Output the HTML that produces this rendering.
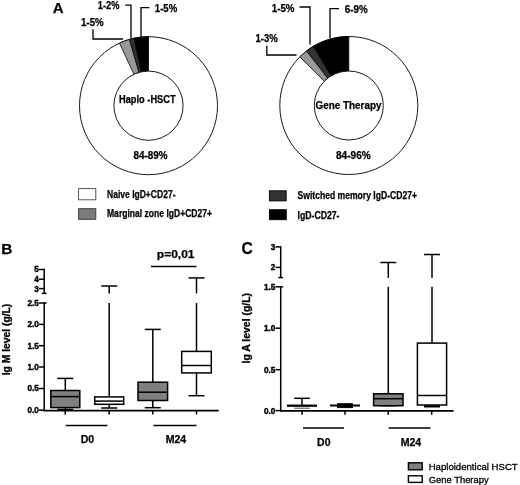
<!DOCTYPE html>
<html><head><meta charset="utf-8"><title>Figure</title>
<style>
html,body{margin:0;padding:0;background:#fff;}
svg{display:block;}
text{font-family:"Liberation Sans",sans-serif;fill:#000;}
</style></head><body>
<svg width="520" height="485" viewBox="0 0 520 485">
<rect width="520" height="485" fill="#fff"/>
<text x="52.8" y="13" font-size="15" font-weight="bold" text-anchor="start" stroke="#000" stroke-width="0.25">A</text>
<circle cx="148.5" cy="105.7" r="69" fill="#fff" stroke="#1a1a1a" stroke-width="1"/>
<path d="M148.50 36.70 A69 69 0 0 0 133.92 38.26 L141.19 71.88 A34.6 34.6 0 0 1 148.50 71.10 Z" fill="#000" stroke="#000" stroke-width="0.8"/>
<path d="M133.92 38.26 A69 69 0 0 0 129.37 39.41 L138.90 72.46 A34.6 34.6 0 0 1 141.19 71.88 Z" fill="#333" stroke="#000" stroke-width="0.8"/>
<path d="M129.37 39.41 A69 69 0 0 0 119.45 43.11 L133.93 74.32 A34.6 34.6 0 0 1 138.90 72.46 Z" fill="#999" stroke="#000" stroke-width="0.8"/>
<circle cx="148.5" cy="105.7" r="34.6" fill="#fff" stroke="#1a1a1a" stroke-width="1"/>
<circle cx="348.8" cy="105.5" r="69" fill="#fff" stroke="#1a1a1a" stroke-width="1"/>
<path d="M348.80 36.50 A69 69 0 0 0 313.26 46.36 L331.03 75.93 A34.5 34.5 0 0 1 348.80 71.00 Z" fill="#000" stroke="#000" stroke-width="0.8"/>
<path d="M313.26 46.36 A69 69 0 0 0 306.51 50.98 L327.65 78.24 A34.5 34.5 0 0 1 331.03 75.93 Z" fill="#333" stroke="#000" stroke-width="0.8"/>
<path d="M306.51 50.98 A69 69 0 0 0 299.84 56.88 L324.32 81.19 A34.5 34.5 0 0 1 327.65 78.24 Z" fill="#999" stroke="#000" stroke-width="0.8"/>
<circle cx="348.8" cy="105.5" r="34.5" fill="#fff" stroke="#1a1a1a" stroke-width="1"/>
<text x="81" y="26.2" font-size="10.1" font-weight="bold" text-anchor="start" textLength="22.7" lengthAdjust="spacingAndGlyphs" stroke="#000" stroke-width="0.25">1-5%</text>
<polyline points="93,29.2 93,39 123,39" fill="none" stroke="#000" stroke-width="1.3"/>
<text x="97.8" y="8.6" font-size="10.1" font-weight="bold" text-anchor="start" textLength="21.6" lengthAdjust="spacingAndGlyphs" stroke="#000" stroke-width="0.25">1-2%</text>
<polyline points="125.2,5.2 131,5.2 131,38.5" fill="none" stroke="#000" stroke-width="1.3"/>
<text x="154.8" y="12.0" font-size="10.1" font-weight="bold" text-anchor="start" textLength="22.4" lengthAdjust="spacingAndGlyphs" stroke="#000" stroke-width="0.25">1-5%</text>
<polyline points="149.4,7.7 141,7.7 141,37" fill="none" stroke="#000" stroke-width="1.3"/>
<text x="119" y="103.2" font-size="10.1" font-weight="bold" text-anchor="start" textLength="56.6" lengthAdjust="spacingAndGlyphs" stroke="#000" stroke-width="0.25">Haplo -HSCT</text>
<text x="133.5" y="159.4" font-size="10.1" font-weight="bold" text-anchor="start" textLength="34" lengthAdjust="spacingAndGlyphs" stroke="#000" stroke-width="0.25">84-89%</text>
<text x="271.8" y="11.6" font-size="10.1" font-weight="bold" text-anchor="start" textLength="22.7" lengthAdjust="spacingAndGlyphs" stroke="#000" stroke-width="0.25">1-5%</text>
<polyline points="299.5,7 310,7 310,44.5" fill="none" stroke="#000" stroke-width="1.3"/>
<text x="344.8" y="13.2" font-size="10.1" font-weight="bold" text-anchor="start" textLength="22.8" lengthAdjust="spacingAndGlyphs" stroke="#000" stroke-width="0.25">6-9%</text>
<polyline points="339,8.7 330,8.7 330,38" fill="none" stroke="#000" stroke-width="1.3"/>
<text x="255.4" y="41.8" font-size="10.1" font-weight="bold" text-anchor="start" textLength="22.3" lengthAdjust="spacingAndGlyphs" stroke="#000" stroke-width="0.25">1-3%</text>
<polyline points="266.8,45.8 266.8,55 296.5,55" fill="none" stroke="#000" stroke-width="1.3"/>
<text x="315.5" y="108.5" font-size="10.1" font-weight="bold" text-anchor="start" textLength="66" lengthAdjust="spacingAndGlyphs" stroke="#000" stroke-width="0.25">Gene Therapy</text>
<text x="336" y="159.4" font-size="10.1" font-weight="bold" text-anchor="start" textLength="34.7" lengthAdjust="spacingAndGlyphs" stroke="#000" stroke-width="0.25">84-96%</text>
<rect x="78.6" y="188.6" width="17.20" height="11.20" fill="#fff" stroke="#444" stroke-width="0.9"/>
<rect x="78.6" y="208.7" width="17.20" height="10.60" fill="#7c7c7c" stroke="#333" stroke-width="0.9"/>
<text x="107" y="197.8" font-size="10.1" font-weight="bold" text-anchor="start" textLength="68.5" lengthAdjust="spacingAndGlyphs" stroke="#000" stroke-width="0.25">Naive IgD+CD27-</text>
<text x="107" y="217" font-size="10.1" font-weight="bold" text-anchor="start" textLength="105" lengthAdjust="spacingAndGlyphs" stroke="#000" stroke-width="0.25">Marginal zone IgD+CD27+</text>
<rect x="269.4" y="190.8" width="16.80" height="10.10" fill="#333" stroke="#000" stroke-width="0.9"/>
<rect x="269.4" y="209.7" width="16.90" height="10.00" fill="#000" stroke="#000" stroke-width="0.9"/>
<text x="297.5" y="199" font-size="10.1" font-weight="bold" text-anchor="start" textLength="119.5" lengthAdjust="spacingAndGlyphs" stroke="#000" stroke-width="0.25">Switched memory IgD-CD27+</text>
<text x="297.5" y="218.5" font-size="10.1" font-weight="bold" text-anchor="start" textLength="42" lengthAdjust="spacingAndGlyphs" stroke="#000" stroke-width="0.25">IgD-CD27-</text>
<text x="1.2" y="253.9" font-size="15.4" font-weight="bold" text-anchor="start" stroke="#000" stroke-width="0.25">B</text>
<line x1="44.2" y1="268.75" x2="44.2" y2="293.4" stroke="#000" stroke-width="1.5"/>
<line x1="41.800000000000004" y1="293.4" x2="46.6" y2="293.4" stroke="#000" stroke-width="1.5"/>
<line x1="44.2" y1="302.25" x2="44.2" y2="411.15" stroke="#000" stroke-width="1.5"/>
<line x1="44.2" y1="303" x2="46.6" y2="303" stroke="#000" stroke-width="1.5"/>
<line x1="39.0" y1="269.5" x2="44.2" y2="269.5" stroke="#000" stroke-width="1.5"/>
<text x="38.900000000000006" y="272.4" font-size="8.2" font-weight="bold" text-anchor="end" stroke="#000" stroke-width="0.4">5</text>
<line x1="39.0" y1="279.2" x2="44.2" y2="279.2" stroke="#000" stroke-width="1.5"/>
<text x="38.900000000000006" y="282.09999999999997" font-size="8.2" font-weight="bold" text-anchor="end" stroke="#000" stroke-width="0.4">4</text>
<line x1="39.0" y1="288.6" x2="44.2" y2="288.6" stroke="#000" stroke-width="1.5"/>
<text x="38.900000000000006" y="291.5" font-size="8.2" font-weight="bold" text-anchor="end" stroke="#000" stroke-width="0.4">3</text>
<line x1="39.0" y1="303" x2="44.2" y2="303" stroke="#000" stroke-width="1.5"/>
<text x="38.900000000000006" y="305.9" font-size="8.2" font-weight="bold" text-anchor="end" stroke="#000" stroke-width="0.4">2.5</text>
<line x1="39.0" y1="324.4" x2="44.2" y2="324.4" stroke="#000" stroke-width="1.5"/>
<text x="38.900000000000006" y="327.29999999999995" font-size="8.2" font-weight="bold" text-anchor="end" stroke="#000" stroke-width="0.4">2.0</text>
<line x1="39.0" y1="345.7" x2="44.2" y2="345.7" stroke="#000" stroke-width="1.5"/>
<text x="38.900000000000006" y="348.59999999999997" font-size="8.2" font-weight="bold" text-anchor="end" stroke="#000" stroke-width="0.4">1.5</text>
<line x1="39.0" y1="367" x2="44.2" y2="367" stroke="#000" stroke-width="1.5"/>
<text x="38.900000000000006" y="369.9" font-size="8.2" font-weight="bold" text-anchor="end" stroke="#000" stroke-width="0.4">1.0</text>
<line x1="39.0" y1="388.5" x2="44.2" y2="388.5" stroke="#000" stroke-width="1.5"/>
<text x="38.900000000000006" y="391.4" font-size="8.2" font-weight="bold" text-anchor="end" stroke="#000" stroke-width="0.4">0.5</text>
<line x1="39.0" y1="410.2" x2="44.2" y2="410.2" stroke="#000" stroke-width="1.5"/>
<text x="38.900000000000006" y="413.09999999999997" font-size="8.2" font-weight="bold" text-anchor="end" stroke="#000" stroke-width="0.4">0.0</text>
<line x1="43.45" y1="410.6" x2="218.7" y2="410.6" stroke="#000" stroke-width="1.6"/>
<line x1="65.2" y1="410.6" x2="65.2" y2="414.5" stroke="#000" stroke-width="1.5"/>
<line x1="109.2" y1="410.6" x2="109.2" y2="414.5" stroke="#000" stroke-width="1.5"/>
<line x1="152.8" y1="410.6" x2="152.8" y2="414.5" stroke="#000" stroke-width="1.5"/>
<line x1="196.5" y1="410.6" x2="196.5" y2="414.5" stroke="#000" stroke-width="1.5"/>
<text transform="translate(9.9,339.5) rotate(-90)" font-size="10.1" font-weight="bold" text-anchor="middle" textLength="71.5" lengthAdjust="spacingAndGlyphs" stroke="#000" stroke-width="0.3">Ig M level (g/L)</text>
<line x1="65.3" y1="378.4" x2="65.3" y2="390.5" stroke="#000" stroke-width="1.5"/>
<line x1="57.3" y1="378.4" x2="73.3" y2="378.4" stroke="#000" stroke-width="1.5"/>
<line x1="65.3" y1="407.6" x2="65.3" y2="409.4" stroke="#000" stroke-width="1.5"/>
<line x1="57.3" y1="409.4" x2="73.3" y2="409.4" stroke="#000" stroke-width="1.5"/>
<rect x="50.8" y="390.5" width="29.00" height="17.10" fill="#808080" stroke="#000" stroke-width="1.5"/>
<line x1="50.8" y1="396.6" x2="79.8" y2="396.6" stroke="#000" stroke-width="1.5"/>
<line x1="109.2" y1="286" x2="109.2" y2="293.4" stroke="#000" stroke-width="1.5"/>
<line x1="109.2" y1="303" x2="109.2" y2="396.9" stroke="#000" stroke-width="1.5"/>
<line x1="101.2" y1="286" x2="117.2" y2="286" stroke="#000" stroke-width="1.5"/>
<line x1="109.2" y1="404.3" x2="109.2" y2="408" stroke="#000" stroke-width="1.5"/>
<line x1="101.2" y1="408" x2="117.2" y2="408" stroke="#000" stroke-width="1.5"/>
<rect x="94.7" y="396.9" width="29.00" height="7.40" fill="#fff" stroke="#000" stroke-width="1.5"/>
<line x1="94.7" y1="401.1" x2="123.7" y2="401.1" stroke="#000" stroke-width="1.5"/>
<line x1="152.8" y1="329.4" x2="152.8" y2="382.2" stroke="#000" stroke-width="1.5"/>
<line x1="144.8" y1="329.4" x2="160.8" y2="329.4" stroke="#000" stroke-width="1.5"/>
<line x1="152.8" y1="400.5" x2="152.8" y2="407.7" stroke="#000" stroke-width="1.5"/>
<line x1="144.8" y1="407.7" x2="160.8" y2="407.7" stroke="#000" stroke-width="1.5"/>
<rect x="138.0" y="382.2" width="29.60" height="18.30" fill="#808080" stroke="#000" stroke-width="1.5"/>
<line x1="138.0" y1="392.2" x2="167.60000000000002" y2="392.2" stroke="#000" stroke-width="1.5"/>
<line x1="196.5" y1="277.9" x2="196.5" y2="293.4" stroke="#000" stroke-width="1.5"/>
<line x1="196.5" y1="303" x2="196.5" y2="351.4" stroke="#000" stroke-width="1.5"/>
<line x1="188.5" y1="277.9" x2="204.5" y2="277.9" stroke="#000" stroke-width="1.5"/>
<line x1="196.5" y1="372.9" x2="196.5" y2="395.7" stroke="#000" stroke-width="1.5"/>
<line x1="188.5" y1="395.7" x2="204.5" y2="395.7" stroke="#000" stroke-width="1.5"/>
<rect x="181.7" y="351.4" width="29.60" height="21.50" fill="#fff" stroke="#000" stroke-width="1.5"/>
<line x1="181.7" y1="365.5" x2="211.3" y2="365.5" stroke="#000" stroke-width="1.5"/>
<line x1="65.7" y1="425.4" x2="107.4" y2="425.4" stroke="#000" stroke-width="1.5"/>
<line x1="153.5" y1="425.4" x2="196.4" y2="425.4" stroke="#000" stroke-width="1.5"/>
<text x="87.5" y="442.6" font-size="10.5" font-weight="bold" text-anchor="middle" stroke="#000" stroke-width="0.25">D0</text>
<text x="176" y="442.6" font-size="10.5" font-weight="bold" text-anchor="middle" stroke="#000" stroke-width="0.25">M24</text>
<text x="156.8" y="258.3" font-size="11.8" font-weight="bold" text-anchor="start" textLength="37.7" lengthAdjust="spacingAndGlyphs" stroke="#000" stroke-width="0.25">p=0,01</text>
<line x1="151" y1="266.5" x2="196.5" y2="266.5" stroke="#000" stroke-width="1.6"/>
<text x="241.4" y="254.2" font-size="15.6" font-weight="bold" text-anchor="start" stroke="#000" stroke-width="0.25">C</text>
<line x1="280.7" y1="246.15" x2="280.7" y2="277.6" stroke="#000" stroke-width="1.5"/>
<line x1="278.3" y1="277.6" x2="283.09999999999997" y2="277.6" stroke="#000" stroke-width="1.5"/>
<line x1="280.7" y1="286.05" x2="280.7" y2="411.65" stroke="#000" stroke-width="1.5"/>
<line x1="280.7" y1="286.8" x2="283.09999999999997" y2="286.8" stroke="#000" stroke-width="1.5"/>
<line x1="275.5" y1="246.9" x2="280.7" y2="246.9" stroke="#000" stroke-width="1.5"/>
<text x="275.4" y="249.8" font-size="8.2" font-weight="bold" text-anchor="end" stroke="#000" stroke-width="0.4">3</text>
<line x1="275.5" y1="267.4" x2="280.7" y2="267.4" stroke="#000" stroke-width="1.5"/>
<text x="275.4" y="270.29999999999995" font-size="8.2" font-weight="bold" text-anchor="end" stroke="#000" stroke-width="0.4">2</text>
<line x1="275.5" y1="286.8" x2="280.7" y2="286.8" stroke="#000" stroke-width="1.5"/>
<text x="275.4" y="289.7" font-size="8.2" font-weight="bold" text-anchor="end" stroke="#000" stroke-width="0.4">1.5</text>
<line x1="275.5" y1="328.2" x2="280.7" y2="328.2" stroke="#000" stroke-width="1.5"/>
<text x="275.4" y="331.09999999999997" font-size="8.2" font-weight="bold" text-anchor="end" stroke="#000" stroke-width="0.4">1.0</text>
<line x1="275.5" y1="369.7" x2="280.7" y2="369.7" stroke="#000" stroke-width="1.5"/>
<text x="275.4" y="372.59999999999997" font-size="8.2" font-weight="bold" text-anchor="end" stroke="#000" stroke-width="0.4">0.5</text>
<line x1="275.5" y1="410.6" x2="280.7" y2="410.6" stroke="#000" stroke-width="1.5"/>
<text x="275.4" y="413.5" font-size="8.2" font-weight="bold" text-anchor="end" stroke="#000" stroke-width="0.4">0.0</text>
<line x1="279.95" y1="410.9" x2="453.5" y2="410.9" stroke="#000" stroke-width="1.6"/>
<line x1="302" y1="410.9" x2="302" y2="414.8" stroke="#000" stroke-width="1.5"/>
<line x1="345" y1="410.9" x2="345" y2="414.8" stroke="#000" stroke-width="1.5"/>
<line x1="388.2" y1="410.9" x2="388.2" y2="414.8" stroke="#000" stroke-width="1.5"/>
<line x1="431.7" y1="410.9" x2="431.7" y2="414.8" stroke="#000" stroke-width="1.5"/>
<text transform="translate(250.4,328.2) rotate(-90)" font-size="10.1" font-weight="bold" text-anchor="middle" textLength="70.6" lengthAdjust="spacingAndGlyphs" stroke="#000" stroke-width="0.3">Ig A level (g/L)</text>
<line x1="302" y1="398.3" x2="302" y2="405" stroke="#000" stroke-width="1.5"/>
<line x1="294.2" y1="398.3" x2="309.8" y2="398.3" stroke="#000" stroke-width="1.5"/>
<line x1="287" y1="405.7" x2="317" y2="405.7" stroke="#000" stroke-width="2.3"/>
<line x1="294.2" y1="408.2" x2="309.8" y2="408.2" stroke="#222" stroke-width="0.8"/>
<line x1="330" y1="405.5" x2="360" y2="405.5" stroke="#000" stroke-width="2.0"/>
<rect x="337.6" y="403.7" width="14.80" height="3.90" fill="#000" stroke="#000" stroke-width="1.0"/>
<line x1="388.3" y1="262.5" x2="388.3" y2="277.9" stroke="#000" stroke-width="1.5"/>
<line x1="388.3" y1="286.8" x2="388.3" y2="393.8" stroke="#000" stroke-width="1.5"/>
<line x1="380.3" y1="262.5" x2="396.3" y2="262.5" stroke="#000" stroke-width="1.5"/>
<line x1="388.3" y1="405.7" x2="388.3" y2="405.7" stroke="#000" stroke-width="1.5"/>
<line x1="380.3" y1="405.7" x2="396.3" y2="405.7" stroke="#000" stroke-width="1.5"/>
<rect x="373.6" y="393.8" width="29.40" height="11.90" fill="#808080" stroke="#000" stroke-width="1.5"/>
<line x1="373.6" y1="398.7" x2="403.0" y2="398.7" stroke="#000" stroke-width="1.5"/>
<line x1="432" y1="254.5" x2="432" y2="277.9" stroke="#000" stroke-width="1.5"/>
<line x1="432" y1="286.8" x2="432" y2="343.1" stroke="#000" stroke-width="1.5"/>
<line x1="424.0" y1="254.5" x2="440.0" y2="254.5" stroke="#000" stroke-width="1.5"/>
<line x1="432" y1="405" x2="432" y2="405" stroke="#000" stroke-width="1.5"/>
<line x1="424.0" y1="405" x2="440.0" y2="405" stroke="#000" stroke-width="1.5"/>
<rect x="417.4" y="343.1" width="29.20" height="61.90" fill="#fff" stroke="#000" stroke-width="1.5"/>
<line x1="417.4" y1="395.5" x2="446.6" y2="395.5" stroke="#000" stroke-width="1.5"/>
<line x1="424" y1="406.5" x2="440" y2="406.5" stroke="#000" stroke-width="2.0"/>
<line x1="303" y1="428" x2="344" y2="428" stroke="#000" stroke-width="1.6"/>
<line x1="388.7" y1="428" x2="430.5" y2="428" stroke="#000" stroke-width="1.6"/>
<text x="323.8" y="445.5" font-size="10.5" font-weight="bold" text-anchor="middle" stroke="#000" stroke-width="0.25">D0</text>
<text x="411" y="445.5" font-size="10.5" font-weight="bold" text-anchor="middle" stroke="#000" stroke-width="0.25">M24</text>
<rect x="408.4" y="462.8" width="13.80" height="7.00" fill="#808080" stroke="#000" stroke-width="1.4"/>
<rect x="408.4" y="475.8" width="13.80" height="6.60" fill="#fff" stroke="#000" stroke-width="1.4"/>
<text x="428.7" y="469.6" font-size="9.7" font-weight="normal" text-anchor="start" textLength="89" lengthAdjust="spacingAndGlyphs" stroke="#000" stroke-width="0.3">Haploidentical HSCT</text>
<text x="428.7" y="482.6" font-size="9.7" font-weight="normal" text-anchor="start" textLength="60" lengthAdjust="spacingAndGlyphs" stroke="#000" stroke-width="0.3">Gene Therapy</text>
</svg>
</body></html>
